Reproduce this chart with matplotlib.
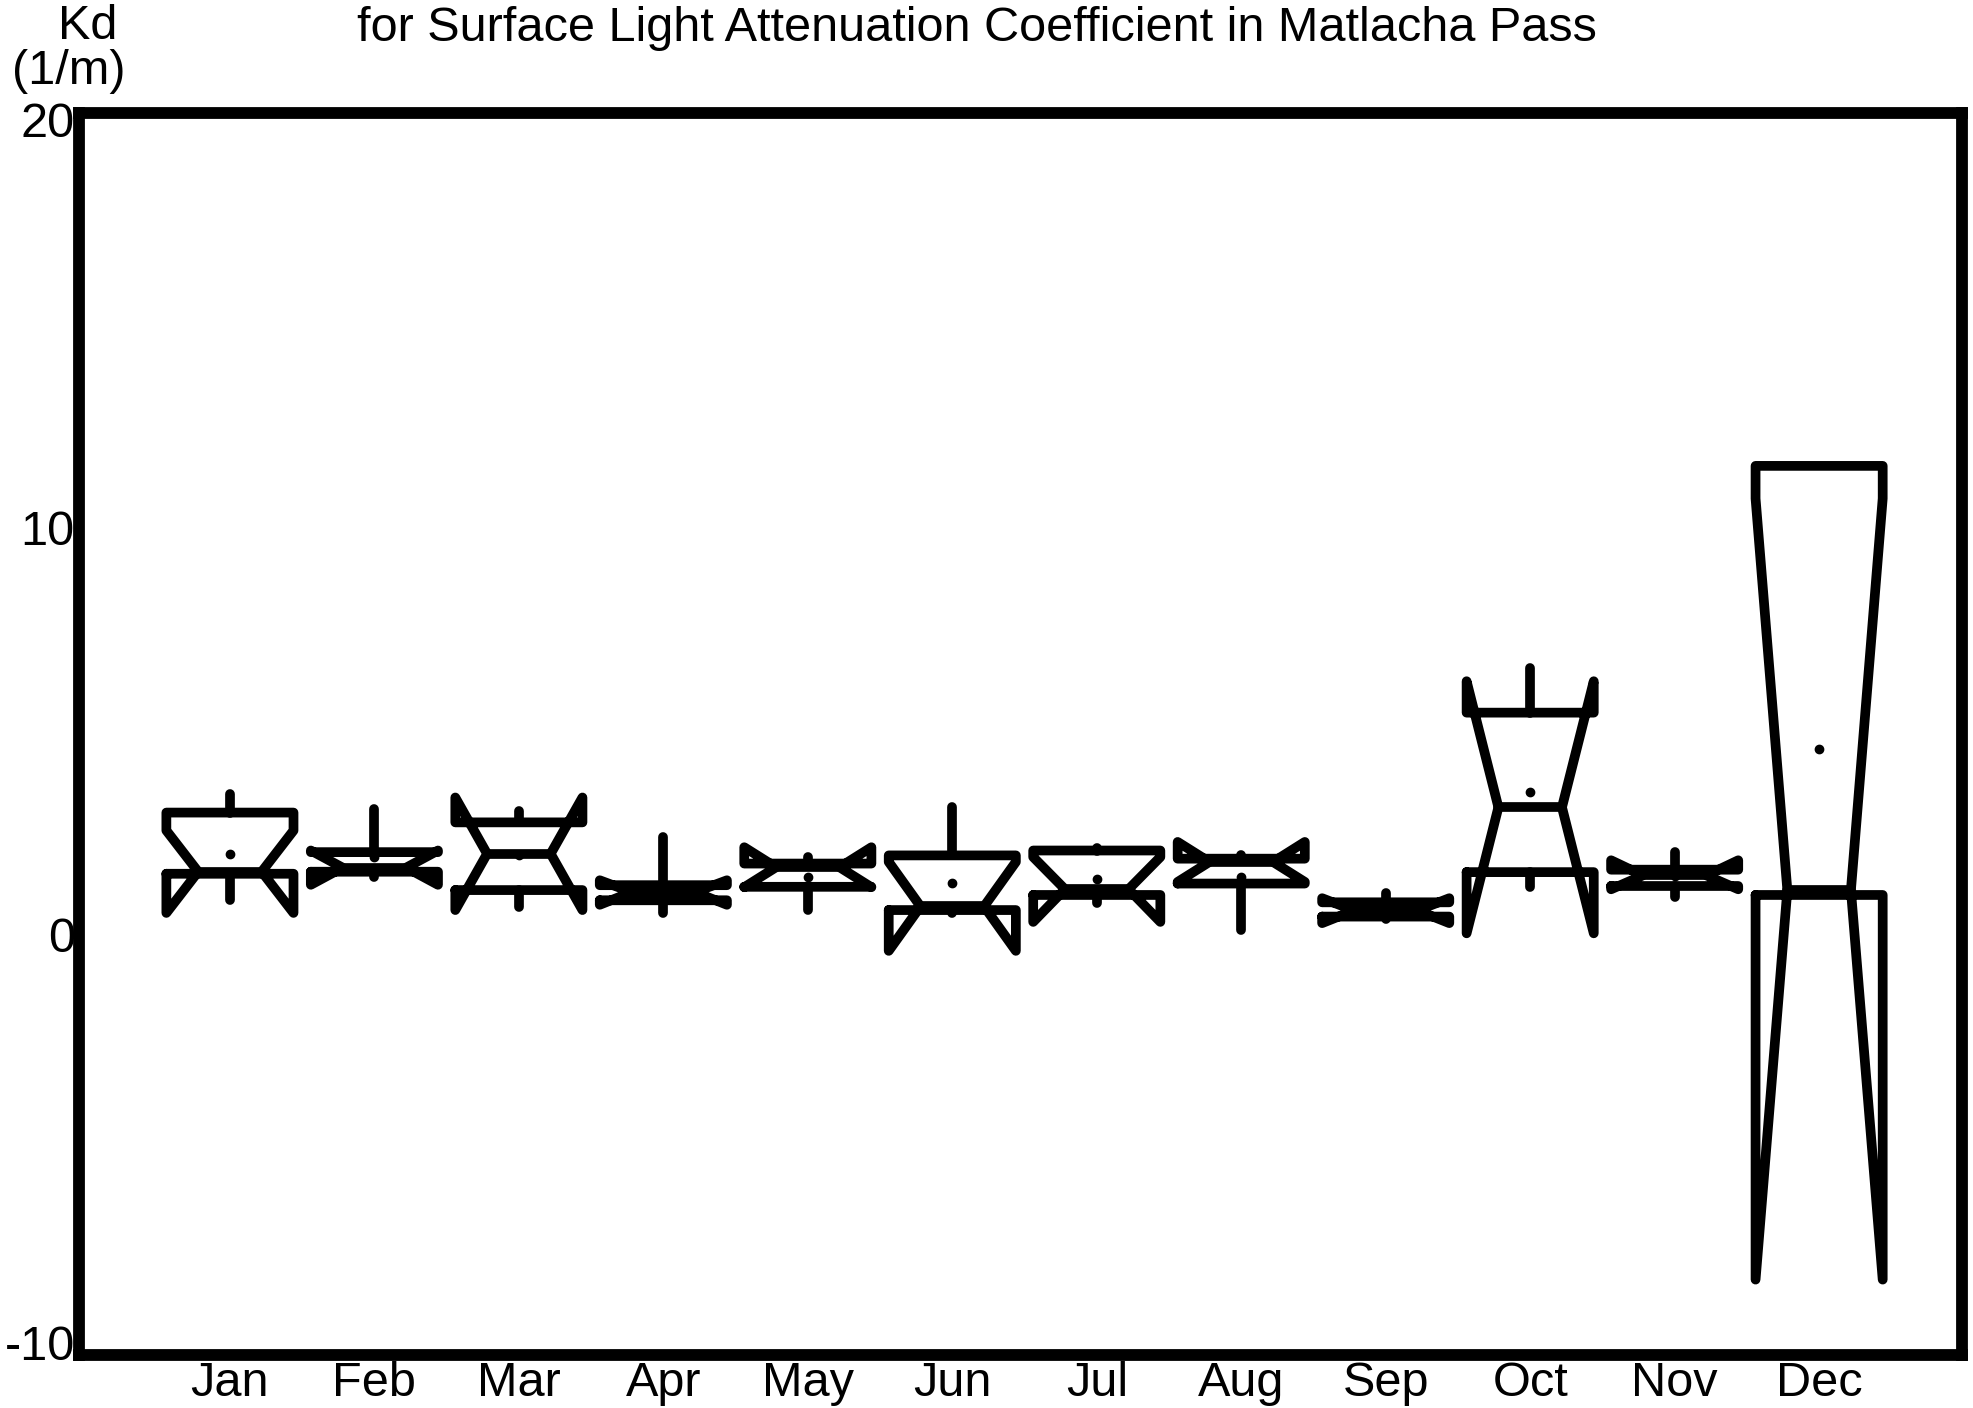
import numpy as np
import matplotlib
matplotlib.use("Agg")
import matplotlib.pyplot as plt

plt.rcParams["font.family"] = ["Liberation Sans", "DejaVu Sans"]

# values (Kd, 1/m)
months = ["Jan", "Feb", "Mar", "Apr", "May", "Jun",
          "Jul", "Aug", "Sep", "Oct", "Nov", "Dec"]
q1 = [1.50, 1.55, 1.10, 0.85, 1.18, 0.61, 0.98, 1.26, 0.45, 1.54, 1.20, 0.98]
median = [1.55, 1.65, 1.99, 1.05, 1.66, 0.70, 1.12, 1.79, 0.60, 3.13, 1.46, 1.10]
q3 = [3.00, 2.03, 2.76, 1.22, 1.75, 1.95, 2.07, 1.87, 0.80, 5.45, 1.60, 11.50]
notch_lo = [0.54, 1.23, 0.61, 0.74, 1.17, -0.39, 0.32, 1.30, 0.29, 0.04, 1.12, -8.45]
notch_hi = [2.56, 2.07, 3.37, 1.34, 2.15, 1.79, 1.91, 2.28, 0.90, 6.22, 1.83, 10.70]
whisk_lo = [0.85, 1.42, 0.69, 0.53, 0.61, 0.53, 0.78, 0.12, 0.40, 1.18, 0.93, 0.98]
whisk_hi = [3.46, 3.09, 3.05, 2.40, 1.91, 3.13, 2.12, 1.95, 1.02, 6.54, 2.03, 11.50]
means = [1.98, 1.90, 1.95, 1.00, 1.42, 1.28, 1.38, 1.42, 0.65, 3.50, 1.45, 4.55]

yticks = [-10, 0, 10, 20]
ytick_labels = ["-10", "0", "10", "20"]

HALF = 0.44      # half box width
INDENT = 0.22    # notch depth at the median
LW = 7.0
FS = 35

fig = plt.figure(figsize=(19.74, 14.08), dpi=100)
ax = fig.add_axes([0.040, 0.0376, 0.954, 0.8821])

for i in range(len(months)):
    x = i + 1
    L, R = x - HALF, x + HALF
    xs = [L, L, L + INDENT, L, L, R, R, R - INDENT, R, R, L]
    ys = [q1[i], notch_lo[i], median[i], notch_hi[i], q3[i],
          q3[i], notch_hi[i], median[i], notch_lo[i], q1[i], q1[i]]
    ax.plot(xs, ys, color="black", lw=LW, solid_joinstyle="round",
            solid_capstyle="round")
    # median only across the notch
    ax.plot([L + INDENT, R - INDENT], [median[i], median[i]], color="black",
            lw=LW, solid_capstyle="round")
    # whiskers, no caps
    ax.plot([x, x], [q3[i], whisk_hi[i]], color="black", lw=LW,
            solid_capstyle="round")
    ax.plot([x, x], [q1[i], whisk_lo[i]], color="black", lw=LW,
            solid_capstyle="round")
    ax.plot(x, means[i], "o", color="black", ms=6)

ax.set_xlim(-0.045, 12.99)
ax.set_ylim(-10.3, 20.15)
ax.set_xticks(np.arange(1, 13))
ax.set_xticklabels(months, fontsize=FS)
ax.tick_params(axis="x", length=0, pad=4)
ax.set_yticks(yticks)
ax.set_yticklabels(ytick_labels, fontsize=FS)
ax.tick_params(axis="y", length=3, width=4, pad=0)
for s in ax.spines.values():
    s.set_linewidth(8.5)

fig.text(0.495, 0.980, "for Surface Light Attenuation Coefficient in Matlacha Pass",
         ha="center", va="center", fontsize=FS)
fig.text(0.0445, 0.981, "Kd", ha="center", va="center", fontsize=FS)
fig.text(0.035, 0.949, "(1/m)", ha="center", va="center", fontsize=FS)

fig.savefig("out.png", dpi=100)
